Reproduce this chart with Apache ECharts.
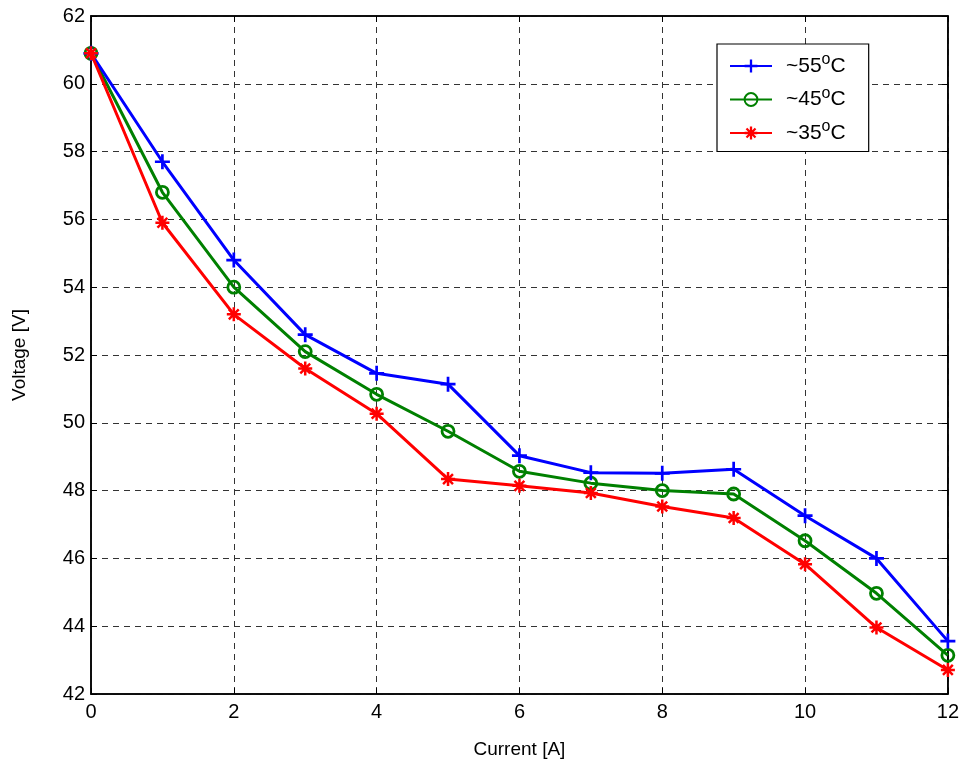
<!DOCTYPE html>
<html>
<head>
<meta charset="utf-8">
<script src="https://cdn.jsdelivr.net/npm/echarts@6/dist/echarts.min.js"></script>
<style>
html,body{margin:0;padding:0;background:#fff;}
#chart{width:962px;height:764px;}
</style>
</head>
<body>
<div id="chart"></div>
<script>
// Data
const currents = [0, 1, 2, 3, 4, 5, 6, 7, 8, 9, 10, 11, 12];
const v55 = [60.9, 57.7, 54.8, 52.6, 51.46, 51.14, 49.03, 48.53, 48.51, 48.63, 47.26, 46.0, 43.56];
const v45 = [60.9, 56.8, 54.0, 52.1, 50.84, 49.75, 48.57, 48.22, 48.0, 47.9, 46.52, 44.97, 43.14];
const v35 = [60.9, 55.9, 53.2, 51.6, 50.27, 48.34, 48.14, 47.93, 47.53, 47.19, 45.83, 43.96, 42.71];
const seriesNames = ['55', '45', '35'];
const xTicks = [0, 2, 4, 6, 8, 10, 12];
const yTicks = [42, 44, 46, 48, 50, 52, 54, 56, 58, 60, 62];

const pairs = (ys) => currents.map((x, i) => [x, ys[i]]);

const plusPath = 'path://M-1.8,-10 L1.8,-10 L1.8,-1.8 L10,-1.8 L10,1.8 L1.8,1.8 L1.8,10 L-1.8,10 L-1.8,1.8 L-10,1.8 L-10,-1.8 L-1.8,-1.8 Z';
const starPath = 'path://M-1.8,-10 L1.8,-10 L1.8,-1.8 L10,-1.8 L10,1.8 L1.8,1.8 L1.8,10 L-1.8,10 L-1.8,1.8 L-10,1.8 L-10,-1.8 L-1.8,-1.8 Z ' +
  'M-8.3,-5.8 L-5.8,-8.3 L0,-2.5 L5.8,-8.3 L8.3,-5.8 L2.5,0 L8.3,5.8 L5.8,8.3 L0,2.5 L-5.8,8.3 L-8.3,5.8 L-2.5,0 Z';

const font = 'Liberation Sans, Arial, Helvetica, sans-serif';
const gridLine = { show: true, lineStyle: { color: '#333', type: [6, 5], width: 1 } };

const chart = echarts.init(document.getElementById('chart'), null, { renderer: 'canvas' });

const labelName = (n) => '~' + n + '{sup|o}C';

chart.setOption({
  animation: false,
  backgroundColor: '#fff',
  textStyle: { fontFamily: font },
  grid: { left: 91, right: 13, top: 16, bottom: 70, show: true, borderColor: '#000', borderWidth: 1.5 },
  legend: {
    left: 717, top: 44,
    orient: 'vertical',
    backgroundColor: '#fff',
    borderColor: '#000',
    borderWidth: 1.2,
    borderRadius: 0,
    padding: [8, 23, 8, 12],
    itemGap: 9,
    itemWidth: 42,
    itemHeight: 16,
    textStyle: {
      fontSize: 21, color: '#000', fontFamily: font, padding: [0, 0, 0, 9],
      rich: { sup: { fontSize: 16, verticalAlign: 'top', padding: [0, 0, 12, 0], fontFamily: font } }
    },
    data: seriesNames.map(n => labelName(n))
  },
  xAxis: [{
    type: 'value', min: 0, max: 12, interval: 2,
    name: 'Current [A]', nameLocation: 'middle', nameGap: 46,
    nameTextStyle: { fontSize: 19, color: '#000', fontFamily: font },
    axisLine: { show: true, onZero: false, lineStyle: { color: '#000', width: 1.5 } },
    axisTick: { show: true, inside: true, length: 6, lineStyle: { color: '#000' } },
    axisLabel: { fontSize: 20, color: '#000', margin: 8, fontFamily: font, formatter: v => xTicks.includes(v) ? String(v) : '' },
    splitLine: gridLine
  }, {
    type: 'value', min: 0, max: 12, interval: 2, position: 'top',
    axisLine: { show: true, onZero: false, lineStyle: { color: '#000', width: 1.5 } },
    axisTick: { show: true, inside: true, length: 6, lineStyle: { color: '#000' } },
    axisLabel: { show: false }, splitLine: { show: false }
  }],
  yAxis: [{
    type: 'value', min: 42, max: 62, interval: 2,
    name: 'Voltage [V]', nameLocation: 'middle', nameGap: 62, nameRotate: 90,
    nameTextStyle: { fontSize: 19, color: '#000', fontFamily: font },
    axisLine: { show: true, onZero: false, lineStyle: { color: '#000', width: 1.5 } },
    axisTick: { show: true, inside: true, length: 6, lineStyle: { color: '#000' } },
    axisLabel: { fontSize: 20, color: '#000', margin: 6, fontFamily: font, formatter: v => yTicks.includes(v) ? String(v) : '' },
    splitLine: gridLine
  }, {
    type: 'value', min: 42, max: 62, interval: 2, position: 'right',
    axisLine: { show: true, onZero: false, lineStyle: { color: '#000', width: 1.5 } },
    axisTick: { show: true, inside: true, length: 6, lineStyle: { color: '#000' } },
    axisLabel: { show: false }, splitLine: { show: false }
  }],
  series: [
    {
      name: labelName('55'), type: 'line', data: pairs(v55),
      symbol: plusPath, symbolSize: 15, showAllSymbol: true,
      lineStyle: { color: '#0000ff', width: 3 },
      itemStyle: { color: '#0000ff' }, z: 4
    },
    {
      name: labelName('45'), type: 'line', data: pairs(v45),
      symbol: 'circle', symbolSize: 12, showAllSymbol: true,
      lineStyle: { color: '#008000', width: 3 },
      itemStyle: { color: 'rgba(0,0,0,0)', borderColor: '#008000', borderWidth: 2.8 }, z: 3
    },
    {
      name: labelName('35'), type: 'line', data: pairs(v35),
      symbol: starPath, symbolSize: 14, showAllSymbol: true,
      lineStyle: { color: '#ff0000', width: 3 },
      itemStyle: { color: '#ff0000' }, z: 5
    }
  ]
});
</script>
</body>
</html>
